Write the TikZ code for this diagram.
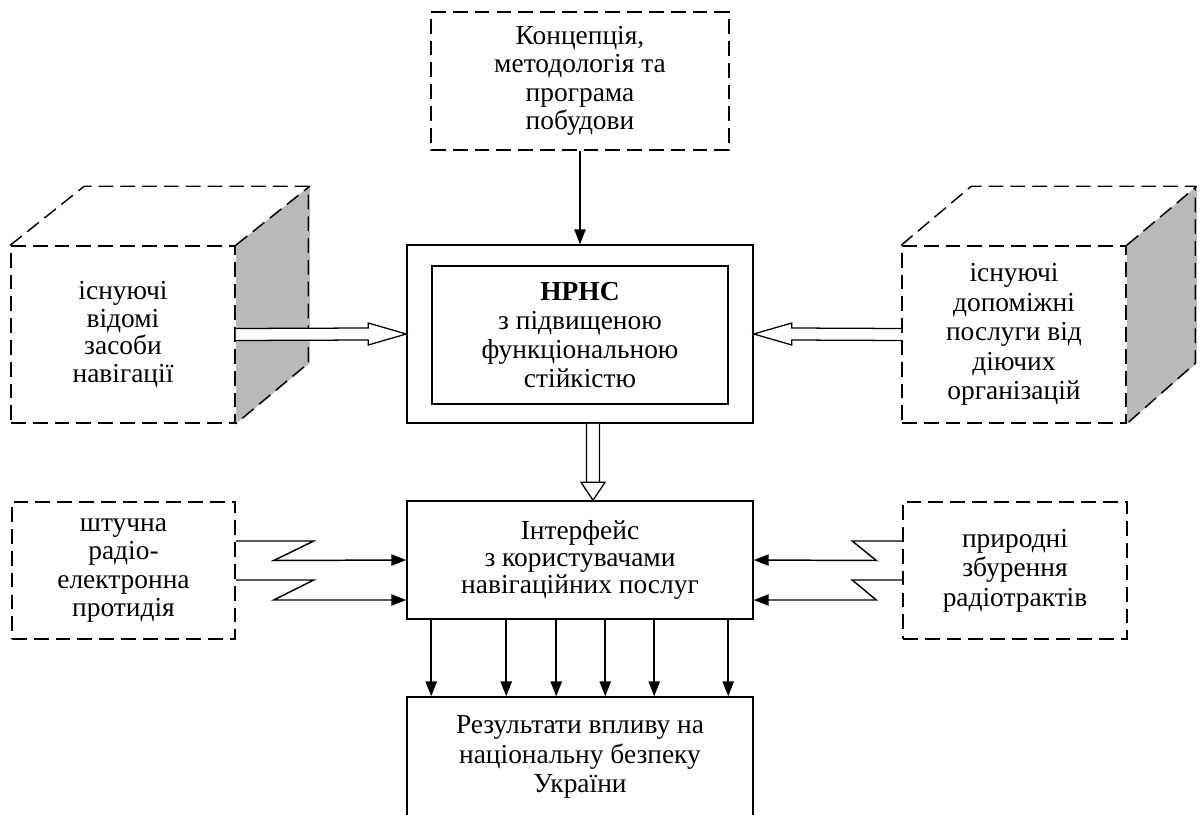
\documentclass[tikz,border=0pt]{standalone}
\usepackage{fontspec}
\setmainfont{Liberation Serif}
\usetikzlibrary{arrows.meta,calc}
\definecolor{cubeShade}{HTML}{B9B9B9}

\begin{document}
\begin{tikzpicture}[x=0.025cm,y=-0.025cm,font=\fontsize{19.5}{21}\selectfont,line width=1.05pt,
  dashBox/.style={draw,dash pattern=on 10.5pt off 5pt,align=center,inner sep=0pt},
  solidBox/.style={draw,align=center,inner sep=0pt},
  thinArr/.style={-{Triangle[length=10.5pt,width=8pt]}},
  hollowArr/.style={draw,fill=white,line width=0.9pt}]
  \path[use as bounding box] (0,0) rectangle (1200,814);
  \clip (0,0) rectangle (1200,814);
  % top and centre
  \node[dashBox,minimum width=7.45cm,minimum height=3.45cm,font=\fontsize{19.5}{20.3}\selectfont] (concept) at (580,81)
    {Концепція,\\методологія та\\програма\\побудови};
  \node[solidBox,minimum width=8.65cm,minimum height=4.45cm] (nrhsOuter) at (580,334) {};
  \node[solidBox,minimum width=7.4cm,minimum height=3.45cm,font=\fontsize{19.5}{20.8}\selectfont] (nrhs) at (580,335)
    {\textbf{НРНС}\\з підвищеною\\функціональною\\стійкістю};
  \draw[thinArr] (concept.south) -- (nrhsOuter.north);
  % left cube
  \node[dashBox,minimum width=5.6cm,minimum height=4.425cm,font=\fontsize{19.5}{19.5}\selectfont] (leftCube) at (123,334.5)
    {існуючі\\відомі\\засоби\\навігації};
  \fill[cubeShade] (leftCube.north east) -- ++(74,-59) -- ++(0,177) -- (leftCube.south east) -- cycle;
  \draw[dash pattern=on 10.5pt off 5pt] (leftCube.north west) -- ++(74,-59) -- ++(224,0) -- ++(0,177) -- (leftCube.south east);
  \draw[dash pattern=on 10.5pt off 5pt] (leftCube.north east) -- ++(74,-59);
  % right cube
  \node[dashBox,minimum width=5.6cm,minimum height=4.425cm] (rightCube) at (1014,334.5)
    {існуючі\\допоміжні\\послуги від\\діючих\\організацій};
  \fill[cubeShade] (rightCube.north east) -- ++(70,-59) -- ++(0,177) -- (rightCube.south east) -- cycle;
  \draw[dash pattern=on 10.5pt off 5pt] (rightCube.north west) -- ++(70,-59) -- ++(224,0) -- ++(0,177) -- (rightCube.south east);
  \draw[dash pattern=on 10.5pt off 5pt] (rightCube.north east) -- ++(70,-59);
  % hollow arrows into the centre
  \draw[hollowArr] ($(leftCube.east)+(0,-6)$) -- ($(nrhsOuter.west)+(-38,-6)$) -- ($(nrhsOuter.west)+(-38,-11)$)
    -- (nrhsOuter.west) -- ($(nrhsOuter.west)+(-38,11)$) -- ($(nrhsOuter.west)+(-38,6)$) -- ($(leftCube.east)+(0,6)$);
  \draw[hollowArr] ($(rightCube.west)+(0,-6)$) -- ($(nrhsOuter.east)+(38,-6)$) -- ($(nrhsOuter.east)+(38,-11)$)
    -- (nrhsOuter.east) -- ($(nrhsOuter.east)+(38,11)$) -- ($(nrhsOuter.east)+(38,6)$) -- ($(rightCube.west)+(0,6)$);
  % interface
  \node[solidBox,minimum width=8.65cm,minimum height=2.95cm,font=\fontsize{19.5}{19.5}\selectfont] (iface) at (580,560)
    {Інтерфейс\\з користувачами\\навігаційних послуг};
  \draw[hollowArr] ($(nrhsOuter.south)+(6.5,0)$) -- ($(iface.north)+(6.5,-18)$) -- ($(iface.north)+(25,-18)$)
    -- ($(iface.north)+(13,0)$) -- ($(iface.north)+(1,-18)$) -- ($(iface.north)+(19.5,-18)$) -- ($(nrhsOuter.south)+(19.5,0)$);
  % disturbances
  \node[dashBox,minimum width=5.575cm,minimum height=3.425cm,font=\fontsize{19.5}{20}\selectfont] (jamming) at (123.5,570.5)
    {штучна\\радіо-\\електронна\\протидія};
  \node[dashBox,minimum width=5.6cm,minimum height=3.425cm] (natural) at (1015,570.5)
    {природні\\збурення\\радіотрактів};
  \draw[thinArr] ($(jamming.east)+(0,-29.5)$) -- ++(78,0) -- ++(-40,19.5) -- (iface.west);
  \draw[thinArr] ($(jamming.east)+(0,9.5)$) -- ++(78,0) -- ++(-40,20) -- ($(iface.west)+(0,40)$);
  \draw[thinArr] ($(natural.west)+(0,-29.5)$) -- ++(-50,0) -- ++(24,19.5) -- (iface.east);
  \draw[thinArr] ($(natural.west)+(0,9.5)$) -- ++(-50,0) -- ++(24,20) -- ($(iface.east)+(0,40)$);
  % result
  \node[solidBox,minimum width=8.65cm,minimum height=3cm] (result) at (580,757)
    {Результати впливу на\\національну безпеку\\України};
  \foreach \dx in {25,100,150,199,248,322}
    \draw[thinArr] ($(iface.south west)+(\dx,0)$) -- ($(result.north west)+(\dx,0)$);
\end{tikzpicture}
\end{document}
